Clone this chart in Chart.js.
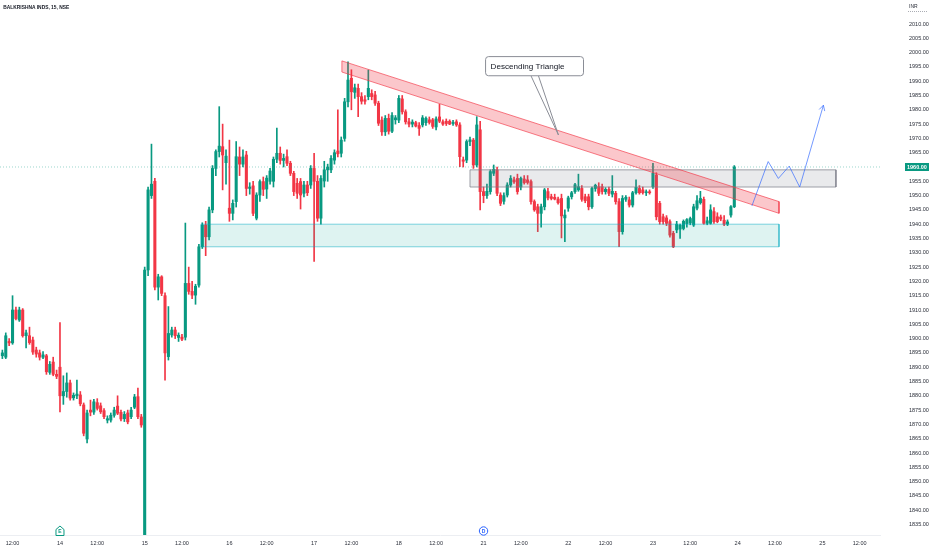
<!DOCTYPE html>
<html>
<head>
<meta charset="utf-8">
<script src="https://cdn.jsdelivr.net/npm/chart.js@4.4.0/dist/chart.umd.min.js"></script>
<style>
html,body{margin:0;padding:0;background:#ffffff;overflow:hidden}
#wrap{width:932px;height:550px;position:relative}
</style>
</head>
<body>
<div id="wrap"><canvas id="c" width="932" height="550"></canvas></div>
<script>
// ---------------- DATA ----------------
const chartTitle = 'BALKRISHNA INDS, 15, NSE';
const currency = 'INR';
const firstBar = -17; // bar index of the first candle (bar 0 = first bar of day 14)

const opens = [
  1894,1893.5,1899,1898.5,1910,1906.5,1910,1901,1901,1899.5,1896,1895,1893.5,1894,1888.2,1891.8,1887.5,
  1890,1880,1881.5,1884.5,1879.3,1880,1880.3,1876.8,1864.9,1875,1874.3,1877.6,1876.5,1874.8,1871.5,1871.5,1873.2,1876.4,1874.2,1872,1874,1872.7,1876,1879.7,1872.6,
  1831,1924,1950,1955,1918,1921.6,1915,1893.7,1901.3,1903,1900.4,1900.5,1900.5,1919.3,1916.5,1915.2,1918.7,1932.1,1939.7,1935.6,1945,1959.5,1965.4,1967.1,1961.5,
  1945.6,1943.8,1947.9,1963.5,1961,1964.2,1952.5,1953.4,1942.1,1950.2,1954.9,1952.3,1955,1955,1962.7,1964.8,1962.3,1963.6,1961.3,1957.8,1954.3,1954.9,1950.8,1953.7,1953.7,
  1959.5,1955,1942.1,1955.1,1959,1959,1962.4,1965.6,1964.8,1970,1982.8,1991,1986.1,1987.5,1984.6,1983.5,1984.6,1985.7,1985.2,1982.3,1976.4,1972.3,1977,1972.5,1976.5,
  1976.4,1983.8,1979.3,1975.8,1975,1975.5,1974.5,1974.7,1975.5,1976.5,1976.5,1974,1977.5,1975.8,1976,1976,1975.2,1975.8,1974.7,1962.5,1962.4,1968.9,1969.4,1960.7,1973,
  1951.4,1950,1951.4,1957.8,1959,1950.2,1948,1950.2,1953.7,1955.5,1956,1953,1955.8,1955.5,1954.9,1947.9,1946.1,1943.8,1946.1,1951.4,1949.6,1949.4,1948.8,1949,1942.2,
  1945.6,1949.6,1951.4,1952,1952.5,1949.6,1949.6,1946.1,1952.5,1953.1,1953.1,1951.4,1952.2,1950.5,1950.8,1947.9,1937.4,1948.7,1948.5,1946.7,1951,1952.5,1952,1951,1951.2,
  1953.1,1957.2,1947.3,1942.6,1942.2,1940.9,1936.8,1938,1938.3,1938.5,1940.2,1940.4,1939.7,1945.6,1947.5,1948.7,1940.3,1940.3,1944.4,1942.6,1942.5,1941.4,1940,1943.2,1946.1
];
const highs = [
  1896,1902,1900,1915,1911,1911,1910.5,1903,1904,1900.5,1897,1896,1895.5,1894.5,1892,1893.5,1889,
  1905.6,1887,1888,1885.5,1881,1885.5,1881.5,1877.5,1875,1878.5,1878.8,1879,1877.5,1875.5,1873,1874,1876,1880,1875,1874.5,1875,1876,1880.5,1882.7,1873.5,
  1925,1953,1968,1956,1922.5,1922,1916,1911.2,1904,1904,1902,1901.5,1940.4,1925,1920,1919,1933,1940.5,1941,1946,1960.5,1966,1981.1,1975,1966,
  1969.4,1948.5,1968.9,1967,1966,1965.5,1954.5,1955,1951,1955.5,1956.5,1957,1959.5,1963.5,1973.6,1967,1964.5,1966,1962,1958.5,1956,1956,1955,1955,1960.5,
  1964.8,1957,1957,1962,1961,1964,1966,1980,1970.5,1984,1996.8,1994,1989,1989,1986,1985,1993.9,1987,1986.5,1983,1977.5,1978,1978.5,1979,1978,
  1985,1985,1980,1977,1976.5,1976,1975.5,1978,1977.5,1977.5,1977,1977.5,1981.9,1976.5,1976.8,1976.5,1976.3,1976.5,1975.5,1963.5,1969.5,1970.5,1970,1977.6,1976,
  1953,1954,1959,1960.7,1960,1951,1951,1954.5,1957,1956.5,1957.5,1956.5,1957,1957,1955.5,1948.5,1947,1947,1952.5,1952.5,1950.5,1950.5,1949.5,1950.5,1945,
  1949.8,1951.5,1954.3,1957.5,1953.5,1950.5,1950.5,1953,1954,1954.5,1954,1952.8,1953,1957,1951.5,1949,1950,1950,1949.5,1951.5,1955.5,1953.5,1953,1952,1952,
  1961.3,1958,1948,1943.5,1943,1941.5,1937.5,1941,1940,1941.5,1942,1942.5,1947,1950,1951.5,1949.5,1942.5,1946.8,1945.8,1944,1943.2,1943,1941.5,1946.5,1960.5
];
const lows = [
  1893,1893,1897.5,1898,1906.5,1906,1900.5,1896.7,1898,1894.5,1893.5,1892.5,1893,1887.5,1887.5,1887,1886,
  1874.4,1877,1879.5,1878.5,1878.5,1879,1876.5,1866,1863.5,1873,1873.5,1875,1873.8,1872,1870.5,1870.8,1872.5,1873.4,1871.2,1871,1870.2,1872,1875.5,1872,1869,
  1830,1922,1949,1917,1913.5,1915,1885.5,1892.5,1900.5,1900,1899,1899.3,1899.5,1915.5,1914,1912,1918,1931.5,1929,1934.5,1944,1957,1963.5,1952,1954,
  1941,1941.5,1946,1957,1960,1950,1950.5,1943,1941.5,1948,1950,1949,1954,1953,1961.5,1961,1960,1960.5,1957,1950,1949,1945.3,1949.5,1950,1952.5,
  1927,1941,1940,1953,1955,1958,1961,1963.5,1963.5,1969,1981,1980,1984,1977.6,1982,1982,1983.5,1983.5,1981.5,1974.5,1971,1971,1971.5,1972,1975,
  1975.5,1978.5,1975,1974,1974,1974,1971,1974,1974.5,1975,1973.5,1973,1975.5,1974.5,1974.5,1974.8,1974.5,1974.2,1960.1,1960,1961.5,1967.5,1959.5,1960,1945,
  1947.5,1949,1950.5,1957,1950,1946.5,1947,1949.5,1953,1954.3,1950.5,1952,1954,1954,1947,1944.5,1937.4,1939,1945,1948.5,1948.5,1948.5,1947,1935.2,1933.9,
  1944.5,1948.8,1950.8,1951.5,1948,1947.5,1945,1945.5,1951.5,1950,1950.5,1950.5,1950,1949.5,1947,1932.1,1936.5,1948,1946,1946,1950.5,1950.5,1950.5,1950,1950.5,
  1952.5,1941.5,1940,1940,1939.5,1935.5,1931.8,1937,1935,1938,1939,1939.8,1939.2,1945,1947,1940,1939.8,1940,1940.3,1940.5,1941.2,1939.5,1939.5,1942.5,1945.8
];
const closes = [
  1895,1901,1898.5,1910,1907,1910,1901,1902,1898.6,1895.3,1894.6,1893.5,1894.3,1888.4,1891,1887.5,1886.8,
  1880,1881.5,1884.5,1879.2,1880.2,1880.6,1877.2,1866.9,1874,1874.3,1877.9,1875.6,1874.4,1872.7,1872,1873.2,1875,1873.9,1871.9,1873.5,1870.9,1875,1879.6,1872.7,1869.8,
  1924,1952,1954,1918,1921.6,1915.8,1895,1901.8,1903,1901,1901.2,1899.8,1919.3,1916.5,1915.2,1918.3,1932.1,1939.7,1935.6,1945,1959.5,1965.4,1967.3,1964.2,1963.8,
  1943.8,1947.3,1963.6,1961,1963.5,1952.5,1953,1943.8,1950.2,1954.9,1952.2,1956.1,1958.6,1962.7,1964.8,1962.3,1963,1961.3,1957.8,1951.4,1950.8,1950.2,1953.7,1951,1959.5,
  1955,1942.1,1956,1959,1960,1963,1965,1964.6,1969.4,1982.8,1990.4,1986.3,1987.7,1984.6,1983,1983,1987.5,1984.6,1982.3,1975.3,1972.3,1977,1972.5,1978,1977.2,
  1984,1979.3,1975.8,1975,1975.7,1974.3,1973.5,1977.2,1977,1975.6,1974.2,1976.8,1976,1975,1975.2,1975,1975.6,1974.7,1963.6,1962,1968.9,1969.5,1960.7,1974.7,1951.4,
  1950,1951.5,1958.4,1959.2,1950.8,1947.3,1950,1953.7,1956,1954.8,1951.4,1956,1954.5,1954.6,1947.9,1945,1943.8,1946.1,1952,1949.2,1949,1948.8,1947.5,1942.9,1943.2,
  1949.2,1951,1953.8,1953.1,1948.7,1948.2,1946.1,1952.5,1953.6,1950.8,1951.4,1952.2,1950.8,1951.5,1947.9,1937.4,1949,1949.4,1946.7,1951,1952.9,1951,1951,1951.3,1951,
  1957.8,1942.6,1940.9,1940.9,1940.3,1936.2,1932.1,1940,1939.6,1941,1941.6,1942,1946.1,1948.2,1949,1940.3,1941.2,1945,1940.9,1940.9,1941.8,1940,1940.8,1946.1,1960
];

// x-axis ticks (bar index -> label)
const tickBars = [-14,0,11,25,36,50,61,75,86,100,111,125,136,150,161,175,186,200,211,225,236];
const tickText = ['12:00','14','12:00','15','12:00','16','12:00','17','12:00','18','12:00','21','12:00','22','12:00','23','12:00','24','12:00','25','12:00'];
// y-axis ticks
const priceTicks = [1835,1840,1845,1850,1855,1860,1865,1870,1875,1880,1885,1890,1895,1900,1905,1910,1915,1920,1925,1930,1935,1940,1945,1950,1955,1960,1965,1970,1975,1980,1985,1990,1995,2000,2005,2010];

// drawings (bar index / price)
const triangleBars = [83.2, 212.2];
const triangleUpper = [1997.1, 1947.9];
const triangleLower = [1993.2, 1943.8];
const resistanceBars = [121, 229];
const resistancePrices = [1953, 1959];
const supportBars = [41.6, 212.2];
const supportPrices = [1932.1, 1940];
const pathBars = [204.2, 209.0, 212.0, 215.2, 218.3, 225.3];
const pathPrices = [1946.4, 1961.9, 1956.0, 1960.3, 1953.0, 1981.6];
const calloutText = 'Descending Triangle';
const calloutBars = [125.6, 154.5];
const calloutPrices = [1998.6, 1991.9];
const calloutBase = [139.0, 141.2];
const calloutTip = {bar: 147.1, price: 1971.2};
const earningsBar = 0;
const dividendBar = 125;

const xRange = [-17.7, 242.0];
const yRange = [1831.33, 2018.39];

// ---------------- CHART ----------------
const UP = '#089981', DOWN = '#f23645';
const FONT = "'Liberation Sans', Arial, sans-serif";
Chart.defaults.font.family = FONT;

const barIdx = opens.map((_, i) => firstBar + i);
const candleColor = (i) => closes[i] >= opens[i] ? UP : DOWN;
const wickData = barIdx.map((k, i) => ({x: k, y: [lows[i], highs[i]]}));
const bodyData = barIdx.map((k, i) => ({x: k, y: [opens[i], closes[i]]}));
const lastClose = closes[closes.length - 1];

const rect = (bx, py) => [
  {x: bx[0], y: py[0]}, {x: bx[0], y: py[1]}, {x: bx[1], y: py[1]}, {x: bx[1], y: py[0]}, {x: bx[0], y: py[0]}
];
const band = [
  {x: triangleBars[0], y: triangleUpper[0]}, {x: triangleBars[1], y: triangleUpper[1]},
  {x: triangleBars[1], y: triangleLower[1]}, {x: triangleBars[0], y: triangleLower[0]},
  {x: triangleBars[0], y: triangleUpper[0]}
];
const pathData = pathBars.map((b, i) => ({x: b, y: pathPrices[i]}));

const lineBase = {type: 'line', pointRadius: 0, tension: 0, borderWidth: 1};

const overlay = {
  id: 'overlay',
  afterDatasetsDraw(chart) {
    const {ctx, scales: {x, y}, chartArea} = chart;
    ctx.save();
    // projection arrow head
    const n = pathBars.length;
    const x1 = x.getPixelForValue(pathBars[n - 2]), y1 = y.getPixelForValue(pathPrices[n - 2]);
    const x2 = x.getPixelForValue(pathBars[n - 1]), y2 = y.getPixelForValue(pathPrices[n - 1]);
    const ang = Math.atan2(y2 - y1, x2 - x1);
    ctx.strokeStyle = 'rgba(41,98,255,0.65)';
    ctx.lineWidth = 1;
    ctx.beginPath();
    for (const s of [-1, 1]) {
      ctx.moveTo(x2, y2);
      ctx.lineTo(x2 - 6 * Math.cos(ang + s * 0.5), y2 - 6 * Math.sin(ang + s * 0.5));
    }
    ctx.stroke();

    // callout
    const bx0 = x.getPixelForValue(calloutBars[0]), bx1 = x.getPixelForValue(calloutBars[1]);
    const by0 = y.getPixelForValue(calloutPrices[0]), by1 = y.getPixelForValue(calloutPrices[1]);
    const tx = x.getPixelForValue(calloutTip.bar), ty = y.getPixelForValue(calloutTip.price);
    ctx.strokeStyle = '#8a8d96';
    ctx.beginPath();
    ctx.moveTo(x.getPixelForValue(calloutBase[0]), by1);
    ctx.lineTo(tx, ty);
    ctx.lineTo(x.getPixelForValue(calloutBase[1]), by1);
    ctx.stroke();
    ctx.fillStyle = '#ffffff';
    ctx.beginPath();
    ctx.roundRect(bx0, by0, bx1 - bx0, by1 - by0, 3);
    ctx.fill();
    ctx.stroke();
    let fs = 10;
    ctx.font = fs + 'px ' + FONT;
    fs = fs * 74 / ctx.measureText(calloutText).width;
    ctx.font = fs.toFixed(2) + 'px ' + FONT;
    ctx.fillStyle = '#131722';
    ctx.textBaseline = 'middle';
    ctx.textAlign = 'left';
    ctx.fillText(calloutText, bx0 + 5, (by0 + by1) / 2 + 0.5);

    // earnings / dividend markers
    const my = chartArea.bottom - 4;
    const ex = x.getPixelForValue(earningsBar);
    ctx.fillStyle = '#ffffff';
    ctx.strokeStyle = UP;
    ctx.beginPath();
    ctx.moveTo(ex - 4, my - 1.5); ctx.lineTo(ex, my - 5); ctx.lineTo(ex + 4, my - 1.5);
    ctx.lineTo(ex + 4, my + 4.5); ctx.lineTo(ex - 4, my + 4.5); ctx.closePath();
    ctx.fill(); ctx.stroke();
    ctx.fillStyle = UP;
    ctx.font = 'bold 5px ' + FONT;
    ctx.textAlign = 'center';
    ctx.fillText('E', ex, my + 0.8);
    const dx = x.getPixelForValue(dividendBar);
    ctx.strokeStyle = '#2962ff';
    ctx.fillStyle = '#ffffff';
    ctx.beginPath();
    ctx.arc(dx, my, 4.2, 0, Math.PI * 2);
    ctx.fill(); ctx.stroke();
    ctx.fillStyle = '#2962ff';
    ctx.fillText('D', dx, my + 0.3);
    ctx.restore();
  },
  afterDraw(chart) {
    const {ctx, scales: {y}} = chart;
    ctx.save();
    // title
    let fs = 6;
    ctx.font = '600 ' + fs + 'px ' + FONT;
    fs = fs * 66 / ctx.measureText(chartTitle).width;
    ctx.font = '600 ' + fs.toFixed(2) + 'px ' + FONT;
    ctx.fillStyle = '#131722';
    ctx.textBaseline = 'alphabetic';
    ctx.textAlign = 'left';
    ctx.fillText(chartTitle, 3.3, 9);
    // currency
    ctx.font = '5px ' + FONT;
    ctx.fillStyle = '#2a2e39';
    ctx.fillText(currency, 909, 7.6);
    ctx.strokeStyle = '#9598a1';
    ctx.setLineDash([1, 1]);
    ctx.lineWidth = 0.8;
    ctx.beginPath();
    ctx.moveTo(908, 11.5); ctx.lineTo(928, 11.5);
    ctx.stroke();
    ctx.setLineDash([]);
    // last price label
    const py = y.getPixelForValue(lastClose);
    ctx.fillStyle = UP;
    ctx.fillRect(905, py - 4, 24, 8);
    ctx.fillStyle = '#ffffff';
    ctx.font = 'bold 5.5px ' + FONT;
    ctx.textBaseline = 'middle';
    ctx.textAlign = 'left';
    ctx.fillText(lastClose.toFixed(2), 907, py + 0.3);
    ctx.restore();
  }
};

new Chart(document.getElementById('c'), {
  type: 'bar',
  data: {
    datasets: [
      {
        label: 'wick', data: wickData, barThickness: 1, grouped: false, order: 10,
        backgroundColor: (c) => candleColor(c.dataIndex), borderWidth: 0
      },
      {
        label: 'body', data: bodyData, barThickness: 2.4, grouped: false, order: 9, minBarLength: 1,
        backgroundColor: (c) => candleColor(c.dataIndex), borderWidth: 0
      },
      Object.assign({}, lineBase, {
        label: 'last', data: [{x: xRange[0], y: lastClose}, {x: xRange[1], y: lastClose}],
        borderColor: 'rgba(8,153,129,0.4)', borderDash: [1, 2], order: 8, fill: false
      }),
      Object.assign({}, lineBase, {
        label: 'support', data: rect(supportBars, supportPrices), fill: 'shape',
        backgroundColor: 'rgba(0,160,150,0.13)', borderColor: 'rgba(0,172,193,0.5)', order: 5
      }),
      Object.assign({}, lineBase, {
        label: 'resistance', data: rect(resistanceBars, resistancePrices), fill: 'shape',
        backgroundColor: 'rgba(120,123,134,0.16)', borderColor: 'rgba(120,123,134,0.7)', order: 4
      }),
      Object.assign({}, lineBase, {
        label: 'triangle', data: band, fill: 'shape',
        backgroundColor: 'rgba(242,54,69,0.28)', borderColor: 'rgba(242,54,69,0.65)', order: 3
      }),
      Object.assign({}, lineBase, {
        label: 'path', data: pathData, fill: false,
        borderColor: 'rgba(41,98,255,0.65)', order: 2
      })
    ]
  },
  options: {
    responsive: false,
    animation: false,
    layout: {padding: 0, autoPadding: false},
    plugins: {legend: {display: false}, tooltip: {enabled: false}, title: {display: false}},
    scales: {
      x: {
        type: 'linear', min: xRange[0], max: xRange[1], offset: false,
        grid: {display: false, drawTicks: false},
        border: {display: true, color: '#eceef2'},
        afterBuildTicks: (s) => { s.ticks = tickBars.map(v => ({value: v})); },
        afterFit: (s) => { s.height = 15; s.paddingLeft = 0; s.paddingRight = 0; },
        ticks: {
          autoSkip: false, maxRotation: 0, minRotation: 0, padding: 5, color: '#2a2e39',
          font: {size: 5.5},
          callback: (v, i) => tickText[i]
        }
      },
      y: {
        type: 'linear', position: 'right', min: yRange[0], max: yRange[1],
        grid: {display: false, drawTicks: false},
        border: {display: false},
        afterBuildTicks: (s) => { s.ticks = priceTicks.map(v => ({value: v})); },
        afterFit: (s) => { s.width = 52; s.paddingTop = 0; s.paddingBottom = 0; },
        ticks: {
          padding: 29, color: '#2a2e39', font: {size: 5.5},
          callback: (v) => Number(v).toFixed(2)
        }
      }
    }
  },
  plugins: [overlay]
});
</script>
</body>
</html>
